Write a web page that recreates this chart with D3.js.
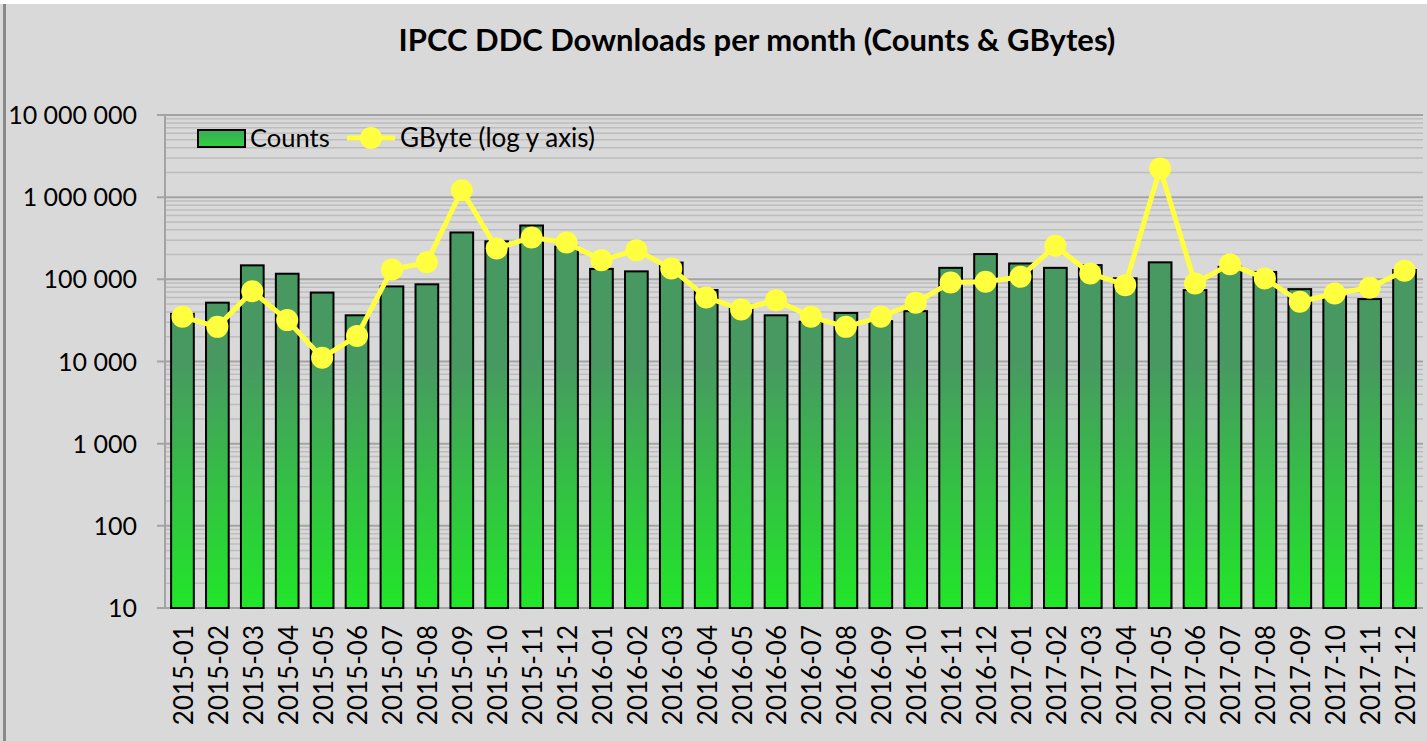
<!DOCTYPE html>
<html>
<head>
<meta charset="utf-8">
<script src="https://cdn.jsdelivr.net/npm/d3@7"></script>
<style>
    html, body { margin: 0; padding: 0; background: #fff; }
    svg { display: block; }
    text { font-family: Lato, "Open Sans", sans-serif; fill: #000; }
</style>
</head>
<body>
<div id="chart"></div>
<script>
const MONTHS = [
    "2015-01", "2015-02", "2015-03", "2015-04", "2015-05", "2015-06",
    "2015-07", "2015-08", "2015-09", "2015-10", "2015-11", "2015-12",
    "2016-01", "2016-02", "2016-03", "2016-04", "2016-05", "2016-06",
    "2016-07", "2016-08", "2016-09", "2016-10", "2016-11", "2016-12",
    "2017-01", "2017-02", "2017-03", "2017-04", "2017-05", "2017-06",
    "2017-07", "2017-08", "2017-09", "2017-10", "2017-11", "2017-12"
];

// downloads (counts)
const COUNTS = [
    38000, 52000, 148000, 117000, 69000, 36500,
    82000, 87000, 372000, 290000, 452000, 250000,
    134000, 125000, 160000, 74000, 46000, 36500,
    30500, 39000, 31000, 41000, 138000, 203000,
    156000, 138000, 149000, 103000, 161000, 74000,
    142000, 123000, 76000, 62000, 57500, 130000
];

// GBytes
const GBYTES = [
    35000, 26400, 71800, 31900, 11100, 20500,
    132000, 161000, 1217000, 237500, 323600, 281000,
    171300, 226600, 135800, 60200, 43000, 55800,
    35000, 26400, 35000, 51800, 91600, 93300,
    107300, 255600, 118000, 85000, 2234000, 89100,
    153000, 102600, 53300, 67300, 78800, 127000
];

const Y_TICKS = [10, 100, 1000, 10000, 100000, 1000000, 10000000];

const TITLE   = "IPCC DDC Downloads per month (Counts & GBytes)";
const LEGEND  = ["Counts", "GByte (log y axis)"];

;(function (d3) {

    const W = 1427, H = 741;
    const plot = { left: 165, right: 1422, top: 115, bottom: 608 };
    const YELLOW = "#ffff40";

    const svg = d3.select("#chart").append("svg")
        .attr("width", W)
        .attr("height", H);

    const defs = svg.append("defs");

    // bar gradient, same for every bar (plot coordinates)
    const grad = defs.append("linearGradient")
        .attr("id", "barGrad")
        .attr("gradientUnits", "userSpaceOnUse")
        .attr("x1", 0).attr("x2", 0)
        .attr("y1", 360).attr("y2", 600);
    grad.append("stop").attr("offset", 0).attr("stop-color", "#489862");
    grad.append("stop").attr("offset", 1).attr("stop-color", "#22e42a");

    const legGrad = defs.append("linearGradient")
        .attr("id", "legGrad")
        .attr("x1", 0).attr("x2", 0).attr("y1", 0).attr("y2", 1);
    legGrad.append("stop").attr("offset", 0).attr("stop-color", "#3aa95a");
    legGrad.append("stop").attr("offset", 1).attr("stop-color", "#2ed23c");

    // background + frame
    svg.append("rect").attr("width", W).attr("height", H).attr("fill", "#fff");
    svg.append("rect").attr("x", 0).attr("y", 4).attr("width", W).attr("height", H - 4).attr("fill", "#d9d9d9");
    svg.append("rect").attr("x", 3).attr("y", 4).attr("width", 3).attr("height", H - 4).attr("fill", "#8a8a8a");

    const x = d3.scaleBand()
        .domain(MONTHS)
        .range([plot.left, plot.right])
        .paddingInner(0.35)
        .paddingOuter(0.175);

    const y = d3.scaleLog()
        .domain([10, 10000000])
        .range([plot.bottom, plot.top]);

    // grid: minor lines (2..9 of each decade), then major lines
    const minor = [];
    for (let d = 10; d < 10000000; d *= 10) {
        for (let k = 2; k <= 9; k++) minor.push(d * k);
    }
    svg.append("g").selectAll("line")
        .data(minor)
        .enter().append("line")
        .attr("x1", plot.left).attr("x2", plot.right + 1)
        .attr("y1", d => y(d)).attr("y2", d => y(d))
        .style("stroke", "#bdbdbd")
        .style("stroke-width", 1.5);

    svg.append("g").selectAll("line")
        .data(Y_TICKS)
        .enter().append("line")
        .attr("x1", plot.left - 8).attr("x2", plot.right + 1)
        .attr("y1", d => y(d)).attr("y2", d => y(d))
        .style("stroke", "#a3a3a3")
        .style("stroke-width", 2);

    // y axis line
    svg.append("line")
        .attr("x1", plot.left).attr("x2", plot.left)
        .attr("y1", plot.top).attr("y2", plot.bottom)
        .style("stroke", "#a3a3a3")
        .style("stroke-width", 2);

    // y labels, space as thousands separator
    const fmt = d3.format(",");
    svg.append("g").selectAll("text")
        .data(Y_TICKS)
        .enter().append("text")
        .attr("x", 137)
        .attr("y", d => y(d))
        .attr("dy", "0.36em")
        .attr("text-anchor", "end")
        .style("font-size", "25px")
        .text(d => fmt(d).replace(/,/g, " "));

    // bars
    svg.append("g").selectAll("rect")
        .data(COUNTS)
        .enter().append("rect")
        .attr("x", (d, i) => x(MONTHS[i]))
        .attr("y", d => y(d))
        .attr("width", x.bandwidth())
        .attr("height", d => plot.bottom - y(d))
        .attr("fill", "url(#barGrad)")
        .style("stroke", "#000")
        .style("stroke-width", 2);

    // x labels
    svg.append("g").selectAll("text")
        .data(MONTHS)
        .enter().append("text")
        .attr("transform", d => `translate(${x(d) + x.bandwidth() / 2 + 1}, 625) rotate(-90)`)
        .attr("dy", "0.36em")
        .attr("text-anchor", "end")
        .style("font-size", "26px")
        .text(d => d);

    // GByte line + markers
    const line = d3.line()
        .x((d, i) => x(MONTHS[i]) + x.bandwidth() / 2)
        .y(d => y(d));

    svg.append("path")
        .datum(GBYTES)
        .attr("d", line)
        .attr("fill", "none")
        .style("stroke", YELLOW)
        .style("stroke-width", 5)
        .style("stroke-linejoin", "round");

    svg.append("g").selectAll("circle")
        .data(GBYTES)
        .enter().append("circle")
        .attr("cx", (d, i) => x(MONTHS[i]) + x.bandwidth() / 2)
        .attr("cy", d => y(d))
        .attr("r", 11)
        .attr("fill", YELLOW);

    // title
    svg.append("text")
        .attr("x", 757)
        .attr("y", 51)
        .attr("text-anchor", "middle")
        .style("font-size", "31px")
        .style("font-weight", "bold")
        .text(TITLE);

    // legend
    const leg = svg.append("g");
    leg.append("rect")
        .attr("x", 198).attr("y", 130)
        .attr("width", 47).attr("height", 17)
        .attr("fill", "url(#legGrad)")
        .style("stroke", "#000")
        .style("stroke-width", 2);
    leg.append("text")
        .attr("x", 250).attr("y", 138)
        .attr("dy", "0.36em")
        .style("font-size", "25.5px")
        .text(LEGEND[0]);
    leg.append("line")
        .attr("x1", 347).attr("x2", 395)
        .attr("y1", 138).attr("y2", 138)
        .style("stroke", YELLOW)
        .style("stroke-width", 5);
    leg.append("circle")
        .attr("cx", 371).attr("cy", 138).attr("r", 11)
        .attr("fill", YELLOW);
    leg.append("text")
        .attr("x", 400).attr("y", 138)
        .attr("dy", "0.36em")
        .style("font-size", "26px")
        .text(LEGEND[1]);

}(d3));
</script>
</body>
</html>
